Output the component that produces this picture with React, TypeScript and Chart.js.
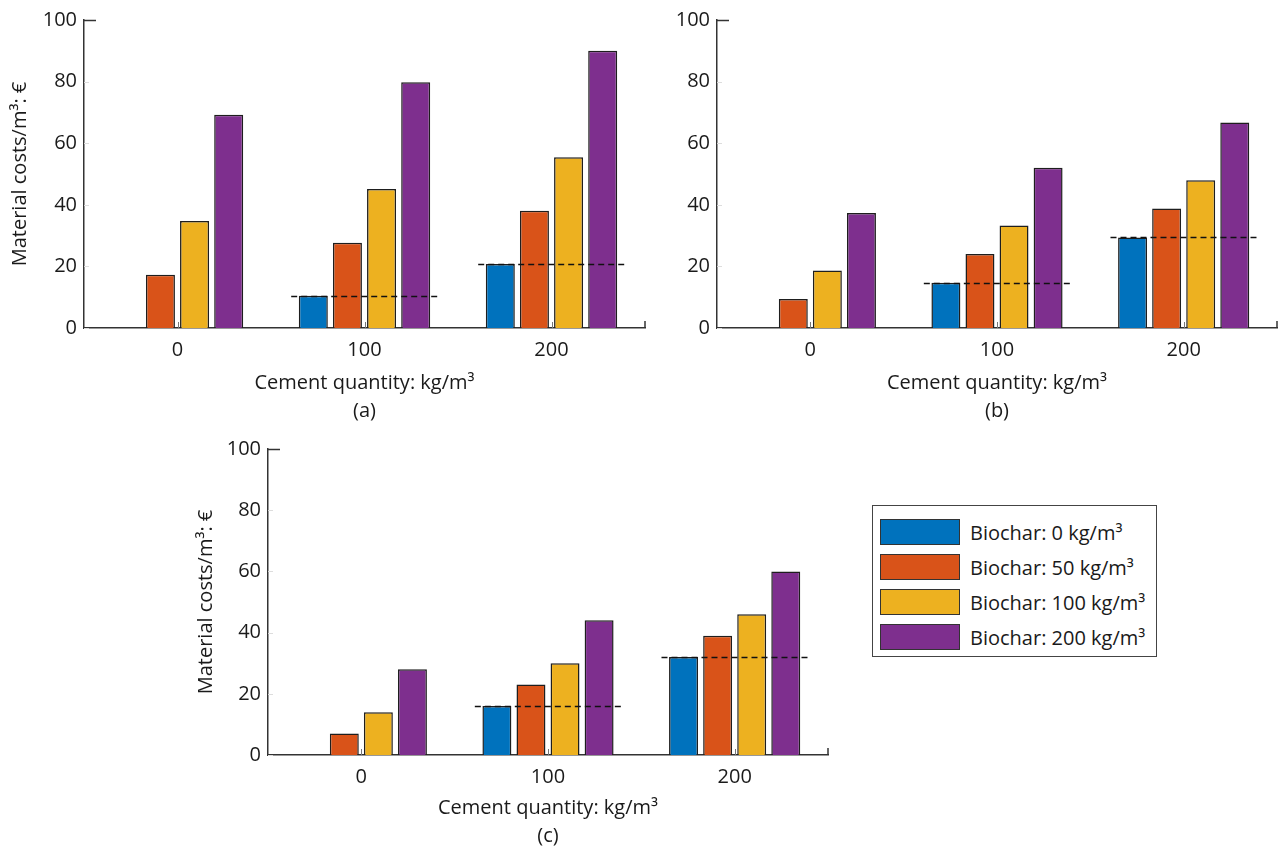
import React, { useEffect, useRef } from 'react';
import { Chart, registerables } from 'chart.js';

Chart.register(...registerables);

// ---------- data ----------
const categories = ['0', '100', '200'];
const seriesLabels = ['Biochar: 0 kg/m³', 'Biochar: 50 kg/m³', 'Biochar: 100 kg/m³', 'Biochar: 200 kg/m³'];
const seriesColors = ['#0072BD', '#D95319', '#EDB120', '#7E2F8E'];
const yTickValues = [0, 20, 40, 60, 80, 100];
const xTitle = 'Cement quantity: kg/m³';
const yTitle = 'Material costs/m³: €';

// panel (a)
const aBiochar0 = [0, 10.5, 20.8];
const aBiochar50 = [17.3, 27.7, 38.1];
const aBiochar100 = [34.7, 45.1, 55.4];
const aBiochar200 = [69.2, 79.8, 90.0];
// panel (b)
const bBiochar0 = [0, 14.7, 29.4];
const bBiochar50 = [9.4, 24.0, 38.8];
const bBiochar100 = [18.7, 33.3, 48.0];
const bBiochar200 = [37.3, 52.0, 66.7];
// panel (c)
const cBiochar0 = [0, 16.0, 32.0];
const cBiochar50 = [7.0, 23.0, 39.0];
const cBiochar100 = [14.0, 30.0, 46.0];
const cBiochar200 = [28.0, 44.0, 60.0];

const FONT = "'Open Sans', 'DejaVu Sans', sans-serif";
const AXIS_COLOR = '#333333';
const TEXT_COLOR = '#1a1a1a';

Chart.defaults.font.family = FONT;
Chart.defaults.color = TEXT_COLOR;

// dashed reference line at the height of the "Biochar: 0" bar in each group
const refLinePlugin = {
  id: 'refLines',
  afterDatasetsDraw(chart: any) {
    const xs = chart.scales.x;
    const ys = chart.scales.y;
    const ctx = chart.ctx;
    const vals = chart.data.datasets[0].data as number[];
    const catW = xs.width / chart.data.labels.length;
    ctx.save();
    ctx.setLineDash([6, 4]);
    ctx.lineWidth = 1.5;
    ctx.strokeStyle = '#111111';
    vals.forEach((v, i) => {
      if (!v) return;
      const cx = xs.getPixelForValue(i);
      const half = catW * 0.392;
      const py = Math.round(ys.getPixelForValue(v)) + 0.5;
      ctx.beginPath();
      ctx.moveTo(cx - half, py);
      ctx.lineTo(cx + half, py);
      ctx.stroke();
    });
    ctx.restore();
  },
};

// inward tick marks like the original figure
const tickPlugin = {
  id: 'inwardTicks',
  beforeDatasetsDraw(chart: any) {
    const xs = chart.scales.x;
    const ys = chart.scales.y;
    const ctx = chart.ctx;
    const { left, right, bottom } = chart.chartArea;
    ctx.save();
    ys.ticks.forEach((t: any) => {
      const py = Math.round(ys.getPixelForValue(t.value)) + 0.5;
      const isTop = t.value === 100;
      ctx.strokeStyle = isTop ? AXIS_COLOR : '#dddddd';
      ctx.lineWidth = isTop ? 1.5 : 1;
      ctx.beginPath();
      ctx.moveTo(left, py);
      ctx.lineTo(left + (isTop ? 12 : 5), py);
      ctx.stroke();
    });
    ctx.strokeStyle = '#777777';
    ctx.lineWidth = 1;
    xs.ticks.forEach((t: any, i: number) => {
      const px = Math.round(xs.getPixelForValue(i)) + 0.5;
      ctx.beginPath();
      ctx.moveTo(px, bottom);
      ctx.lineTo(px, bottom - 6);
      ctx.stroke();
    });
    ctx.strokeStyle = AXIS_COLOR;
    ctx.lineWidth = 1.5;
    ctx.beginPath();
    ctx.moveTo(right, bottom);
    ctx.lineTo(right, bottom - 7);
    ctx.stroke();
    ctx.restore();
  },
};

type PanelProps = {
  left: number;
  top: number;
  width: number;
  height: number;
  areaLeft: number; // relative to canvas
  areaRight: number;
  areaTop: number;
  areaBottom: number;
  series: number[][];
  letter: string;
  showYTitle: boolean;
  yTitlePad: number;
  xTitleLineHeight: number;
  xTitlePadBottom: number;
};

function Panel(p: PanelProps) {
  const ref = useRef<HTMLCanvasElement | null>(null);
  useEffect(() => {
    if (!ref.current) return;
    const chart = new Chart(ref.current, {
      type: 'bar',
      data: {
        labels: categories,
        datasets: p.series.map((d, i) => ({
          label: seriesLabels[i],
          data: d,
          backgroundColor: seriesColors[i],
          borderColor: '#1e1e1e',
          borderWidth: 1.5,
          categoryPercentage: 0.73,
          barPercentage: 0.85,
        })),
      },
      options: {
        animation: false,
        responsive: false,
        devicePixelRatio: 1,
        events: [],
        layout: {
          padding: {
            left: 0,
            top: p.areaTop,
            right: p.width - p.areaRight,
            bottom: 0,
          },
        },
        plugins: {
          legend: { display: false },
          tooltip: { enabled: false },
          title: { display: false },
        },
        scales: {
          x: {
            type: 'category',
            offset: true,
            grid: { display: false, drawTicks: false },
            border: { display: true, color: AXIS_COLOR, width: 1.5 },
            ticks: {
              color: TEXT_COLOR,
              font: { size: 20, family: FONT },
              padding: 10,
              maxRotation: 0,
            },
            title: {
              display: true,
              text: [xTitle, p.letter],
              color: TEXT_COLOR,
              font: { size: 20, family: FONT, lineHeight: p.xTitleLineHeight / 20 },
              padding: { top: 0, bottom: p.xTitlePadBottom },
            },
            afterFit(scale: any) {
              scale.height = p.height - p.areaBottom;
            },
          },
          y: {
            min: 0,
            max: 100,
            grid: { display: false, drawTicks: false },
            border: { display: true, color: AXIS_COLOR, width: 1.5 },
            afterBuildTicks(scale: any) {
              scale.ticks = yTickValues.map((v) => ({ value: v }));
            },
            ticks: {
              color: TEXT_COLOR,
              font: { size: 20, family: FONT },
              padding: 7,
            },
            title: {
              display: p.showYTitle,
              text: yTitle,
              color: TEXT_COLOR,
              font: { size: 20, family: FONT, lineHeight: 1.2 },
              padding: { top: p.yTitlePad, bottom: 0 },
            },
            afterFit(scale: any) {
              scale.width = p.areaLeft;
            },
          },
        },
      },
      plugins: [tickPlugin, refLinePlugin],
    } as any);
    return () => chart.destroy();
  }, []);
  return (
    <canvas
      ref={ref}
      width={p.width}
      height={p.height}
      style={{ position: 'absolute', left: p.left, top: p.top, width: p.width, height: p.height }}
    />
  );
}

function Legend() {
  return (
    <div
      style={{
        position: 'absolute',
        left: 872,
        top: 505,
        width: 285,
        height: 152,
        border: '1px solid #444',
        background: '#fff',
        boxSizing: 'border-box',
        fontFamily: FONT,
        fontSize: 20,
        color: TEXT_COLOR,
      }}
    >
      {seriesLabels.map((lab, i) => (
        <div
          key={lab}
          style={{ position: 'absolute', left: 7, top: 13 + i * 35, height: 26, display: 'flex', alignItems: 'center' }}
        >
          <div
            style={{
              width: 80,
              height: 26,
              flex: '0 0 auto',
              boxSizing: 'border-box',
              border: '1.5px solid #333',
              background: seriesColors[i],
            }}
          />
          <span style={{ marginLeft: 10, whiteSpace: 'nowrap' }}>{lab}</span>
        </div>
      ))}
    </div>
  );
}

export default function App() {
  return (
    <div style={{ position: 'absolute', left: 0, top: 0, width: 1282, height: 848, background: '#fff', overflow: 'hidden' }}>
      <Panel
        left={0}
        top={0}
        width={660}
        height={430}
        areaLeft={84}
        areaRight={645}
        areaTop={20}
        areaBottom={328}
        series={[aBiochar0, aBiochar50, aBiochar100, aBiochar200]}
        letter="(a)"
        showYTitle={true}
        yTitlePad={8}
        xTitleLineHeight={28}
        xTitlePadBottom={5}
      />
      <Panel
        left={640}
        top={0}
        width={642}
        height={430}
        areaLeft={77}
        areaRight={637}
        areaTop={20}
        areaBottom={328}
        series={[bBiochar0, bBiochar50, bBiochar100, bBiochar200]}
        letter="(b)"
        showYTitle={false}
        yTitlePad={0}
        xTitleLineHeight={28}
        xTitlePadBottom={5}
      />
      <Panel
        left={180}
        top={430}
        width={660}
        height={418}
        areaLeft={88}
        areaRight={648}
        areaTop={17}
        areaBottom={325}
        series={[cBiochar0, cBiochar50, cBiochar100, cBiochar200]}
        letter="(c)"
        showYTitle={true}
        yTitlePad={14}
        xTitleLineHeight={28}
        xTitlePadBottom={-2}
      />
      <Legend />
    </div>
  );
}
